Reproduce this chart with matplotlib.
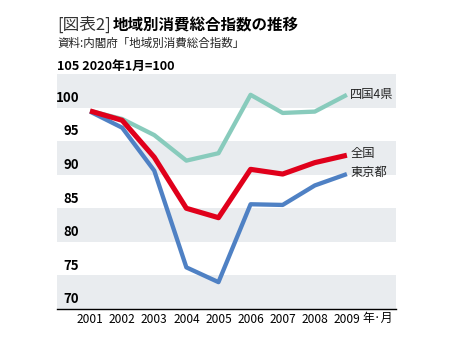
import matplotlib
matplotlib.use("Agg")
import matplotlib.pyplot as plt

plt.rcParams['font.family'] = ['Noto Sans CJK JP', 'DejaVu Sans']

# data
years = [2001, 2002, 2003, 2004, 2005, 2006, 2007, 2008, 2009]
shikoku = [99.5, 98.3, 95.9, 92.1, 93.2, 101.9, 99.2, 99.4, 101.9]
zenkoku = [99.5, 98.1, 92.6, 85.0, 83.6, 90.8, 90.1, 91.8, 92.9]
tokyo = [99.4, 97.0, 90.6, 76.2, 74.0, 85.6, 85.5, 88.4, 90.1]
y_ticks = [70, 75, 80, 85, 90, 95, 100]
series_names = ['四国4県', '全国', '東京都']

colors = {'四国4県': '#88cbbc', '全国': '#e0001b', '東京都': '#4f81c4'}

fig = plt.figure(figsize=(4.54, 3.52), dpi=100)
ax = fig.add_axes([57 / 454, 43 / 352, 339 / 454, 235 / 352])

ax.set_xlim(1999.97, 2010.53)
ax.set_ylim(70, 105)

# alternating grey bands
for lo in range(70, 105, 10):
    ax.axhspan(lo, lo + 5, color='#e9ecef', lw=0, zorder=0)

ax.plot(years, shikoku, color=colors['四国4県'], lw=3.1, solid_capstyle='butt', zorder=2)
ax.plot(years, tokyo, color=colors['東京都'], lw=3.1, solid_capstyle='butt', zorder=3)
ax.plot(years, zenkoku, color=colors['全国'], lw=3.7, solid_capstyle='butt', zorder=4)

# end labels
ends = [shikoku[-1], zenkoku[-1] + 0.3, tokyo[-1] + 0.2]
for name, yv in zip(series_names, ends):
    ax.text(years[-1] + 0.1, yv, name, fontsize=8.8, va='center', ha='left', color='#222222')

for s in ['top', 'right', 'left']:
    ax.spines[s].set_visible(False)
ax.spines['bottom'].set_color('black')
ax.spines['bottom'].set_linewidth(1.0)

ax.set_yticks([])
ax.set_xticks(years)
ax.set_xticklabels([str(y) for y in years], fontsize=8.6)
ax.tick_params(axis='x', length=0, pad=3)

# y labels sit just above their value
for t in y_ticks:
    ax.text(0.065, t + 0.4, str(t), transform=ax.get_yaxis_transform(),
            ha='right', va='bottom', fontsize=9.5, fontweight='bold')

ax.text(years[-1] + 0.5, -0.013, '年·月', transform=ax.get_xaxis_transform(),
        ha='left', va='top', fontsize=8.6)

# header texts
fig.text(57 / 454, 1 - 25 / 352, '[図表2]', fontsize=12, va='center', ha='left', color='#333333')
fig.text(113 / 454, 1 - 25 / 352, '地域別消費総合指数の推移', fontsize=11.2, fontweight='bold',
         va='center', ha='left')
fig.text(57 / 454, 1 - 43 / 352, '資料:内閣府「地域別消費総合指数」', fontsize=8.3,
         va='center', ha='left', color='#222222')
fig.text(57 / 454, 1 - 66 / 352, '105 2020年1月=100', fontsize=9.2, fontweight='bold',
         va='center', ha='left')

fig.savefig('out.png', dpi=100)
